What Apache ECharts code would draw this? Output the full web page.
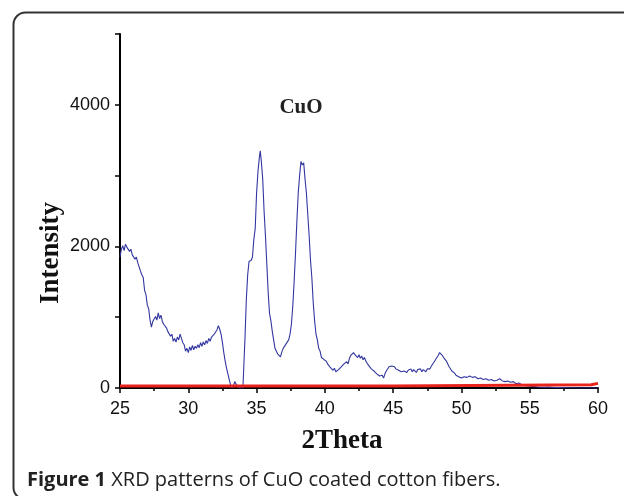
<!DOCTYPE html>
<html>
<head>
<meta charset="utf-8">
<script src="https://cdn.jsdelivr.net/npm/echarts@6/dist/echarts.min.js"></script>
<style>
html,body{margin:0;padding:0;background:#fff;}
#chart{width:624px;height:496px;}
</style>
</head>
<body>
<div id="chart"></div>
<script>
// ---- data ----
const twoTheta = [
25.0,25.1,25.2,25.3,25.4,25.5,25.6,25.7,25.8,25.9,26.0,26.1,26.2,26.3,26.4,26.5,26.6,26.7,26.8,26.9,
27.0,27.1,27.2,27.3,27.4,27.5,27.6,27.7,27.8,27.9,28.0,28.1,28.2,28.3,28.4,28.5,28.6,28.7,28.8,28.9,
29.0,29.1,29.2,29.3,29.4,29.5,29.6,29.7,29.8,29.9,30.0,30.1,30.2,30.3,30.4,30.5,30.6,30.7,30.8,30.9,
31.0,31.1,31.2,31.3,31.4,31.5,31.6,31.7,31.8,31.9,32.0,32.1,32.2,32.3,32.4,32.5,32.6,32.7,32.8,32.9,
33.0,33.1,33.2,33.3,33.4,33.5,33.6,33.7,33.8,33.9,34.0,34.05,34.15,34.25,34.35,34.45,34.6,34.7,34.8,34.9,
35.0,35.1,35.2,35.27,35.35,35.45,35.55,35.65,35.75,35.85,35.95,36.05,36.15,36.25,36.35,36.45,36.55,36.65,36.75,36.85,
36.95,37.05,37.15,37.25,37.35,37.45,37.55,37.65,37.75,37.85,37.95,38.05,38.15,38.25,38.35,38.45,38.55,38.65,38.75,38.85,
38.95,39.05,39.15,39.25,39.35,39.45,39.55,39.65,39.75,39.85,39.95,40.1,40.2,40.3,40.4,40.5,40.6,40.7,40.8,40.9,
41.0,41.1,41.2,41.3,41.4,41.5,41.6,41.7,41.8,41.9,42.0,42.1,42.2,42.3,42.4,42.5,42.6,42.7,42.8,42.9,
43.0,43.1,43.2,43.3,43.4,43.5,43.6,43.7,43.8,43.9,44.0,44.1,44.2,44.3,44.4,44.5,44.6,44.7,44.8,44.9,
45.0,45.1,45.2,45.3,45.4,45.5,45.6,45.7,45.8,45.9,46.0,46.1,46.2,46.3,46.4,46.5,46.6,46.7,46.8,46.9,
47.0,47.1,47.2,47.3,47.4,47.5,47.6,47.7,47.8,47.9,48.0,48.1,48.2,48.3,48.4,48.5,48.6,48.7,48.8,48.9,
49.0,49.1,49.2,49.3,49.4,49.5,49.6,49.7,49.8,49.9,50.0,50.2,50.4,50.6,50.8,51.0,51.2,51.4,51.6,51.8,
52.0,52.2,52.4,52.6,52.8,53.0,53.2,53.4,53.6,53.8,54.0,54.2,54.4,54.6,54.8,55.0,55.3,55.6,56.0,56.4,
56.8,57.3,57.8,58.3,59.0,59.5,60.0
];
const intensity = [
1850,1960,2010,1940,2030,1990,2010,1930,1960,1880,1900,1820,1850,1770,1790,1650,1600,1560,1380,1320,
1170,1120,960,860,940,920,1010,960,1060,980,1030,940,900,880,850,800,820,730,760,660,
700,650,720,680,760,700,640,610,520,560,500,580,530,600,540,590,560,610,570,640,
590,650,610,670,630,700,660,720,700,760,790,820,880,830,760,640,500,380,280,200,
120,40,0,30,90,80,20,0,0,0,0,0,700,1250,1600,1790,1800,1850,2100,2250,
2750,3050,3250,3350,3200,2950,2500,2150,1750,1350,1050,950,800,680,560,520,480,500,440,510,
560,540,620,600,680,760,900,1150,1500,1900,2350,2750,3000,3200,3150,3180,2950,2750,2450,2150,
1800,1550,1200,950,760,680,560,520,430,450,400,380,340,360,290,310,250,280,230,210,
260,240,300,280,340,320,370,340,420,460,440,500,470,490,430,470,420,450,400,430,
380,350,320,330,270,280,240,260,200,210,170,150,180,140,200,240,260,300,320,310,
290,300,270,280,250,270,230,250,240,260,220,250,240,270,230,260,250,220,260,240,
270,230,260,250,230,270,250,270,310,340,360,400,430,460,500,480,460,430,420,380,
340,300,280,240,220,210,180,190,160,170,140,160,150,170,150,160,130,140,120,130,
110,120,100,110,130,100,90,100,80,90,60,70,50,40,30,25,20,15,10,12,
6,5,3,0,0,0,0
];
const baselineTheta = [25, 44.85, 44.9, 59.5, 59.55, 60];
const baselineValue = [28, 28, 45, 45, 65, 65];
const xTicks = [25, 30, 35, 40, 45, 50, 55, 60];
const yTickLabels = ['0', '2000', '4000'];

const chart = echarts.init(document.getElementById('chart'), null, {renderer: 'canvas'});
const blueData = twoTheta.map((t, i) => [t, intensity[i]]);
const redData = baselineTheta.map((t, i) => [t, baselineValue[i]]);

const option = {
  animation: false,
  backgroundColor: '#fff',
  grid: {left: 120, right: 26, top: 34, bottom: 108, containLabel: false},
  xAxis: {
    type: 'value', min: xTicks[0], max: xTicks[xTicks.length - 1], interval: 5,
    axisLine: {show: true, lineStyle: {color: '#000', width: 2}},
    axisTick: {show: true, inside: false, length: 5, lineStyle: {color: '#000', width: 1.5}},
    minorTick: {show: true, splitNumber: 2, length: 3, lineStyle: {color: '#000', width: 1.5}},
    splitLine: {show: false},
    axisLabel: {margin: 12, fontSize: 18, fontFamily: '"Liberation Sans", Arial', color: '#111'}
  },
  yAxis: {
    type: 'value', min: 0, max: 5000, interval: 1000,
    axisLine: {show: true, lineStyle: {color: '#000', width: 2}},
    axisTick: {show: true, inside: false, length: 5, lineStyle: {color: '#000', width: 1.5}},
    splitLine: {show: false},
    axisLabel: {
      margin: 10, fontSize: 18, fontFamily: '"Liberation Sans", Arial', color: '#111',
      formatter: v => (yTickLabels.indexOf(String(v)) >= 0 ? String(v) : '')
    }
  },
  series: [
    {
      type: 'line', data: blueData, showSymbol: false, symbol: 'none',
      lineStyle: {color: '#3236a0', width: 1.1}, z: 2
    },
    {
      type: 'line', data: redData, showSymbol: false, symbol: 'none',
      lineStyle: {color: '#e8231c', width: 3}, z: 3
    }
  ],
  graphic: [
    {
      type: 'rect', left: 11, top: 10, z: -1,
      shape: {width: 700, height: 487, r: 12},
      style: {fill: 'none', stroke: '#333', lineWidth: 2}
    },
    {
      type: 'text', x: 51, y: 253, rotation: Math.PI / 2,
      style: {text: 'Intensity', font: 'bold 27px "Liberation Serif", "Times New Roman", serif',
        fill: '#111', textAlign: 'center', textVerticalAlign: 'middle'}
    },
    {
      type: 'text', x: 342, y: 441,
      style: {text: '2Theta', font: 'bold 27px "Liberation Serif", "Times New Roman", serif',
        fill: '#111', textAlign: 'center', textVerticalAlign: 'middle'}
    },
    {
      type: 'text', x: 301, y: 108,
      style: {text: 'CuO', font: 'bold 21px "Liberation Serif", "Times New Roman", serif',
        fill: '#222', textAlign: 'center', textVerticalAlign: 'middle'}
    },
    {
      type: 'text', x: 27, y: 480,
      style: {
        text: '{b|Figure 1} XRD patterns of CuO coated cotton fibers.',
        font: '20px "Open Sans", "Noto Sans", sans-serif',
        fill: '#222', textVerticalAlign: 'middle',
        rich: {b: {fontWeight: 'bold', fontSize: 20, fontFamily: '"Open Sans", "Noto Sans", sans-serif', fill: '#222'}}
      }
    }
  ]
};
chart.setOption(option);
</script>
</body>
</html>
